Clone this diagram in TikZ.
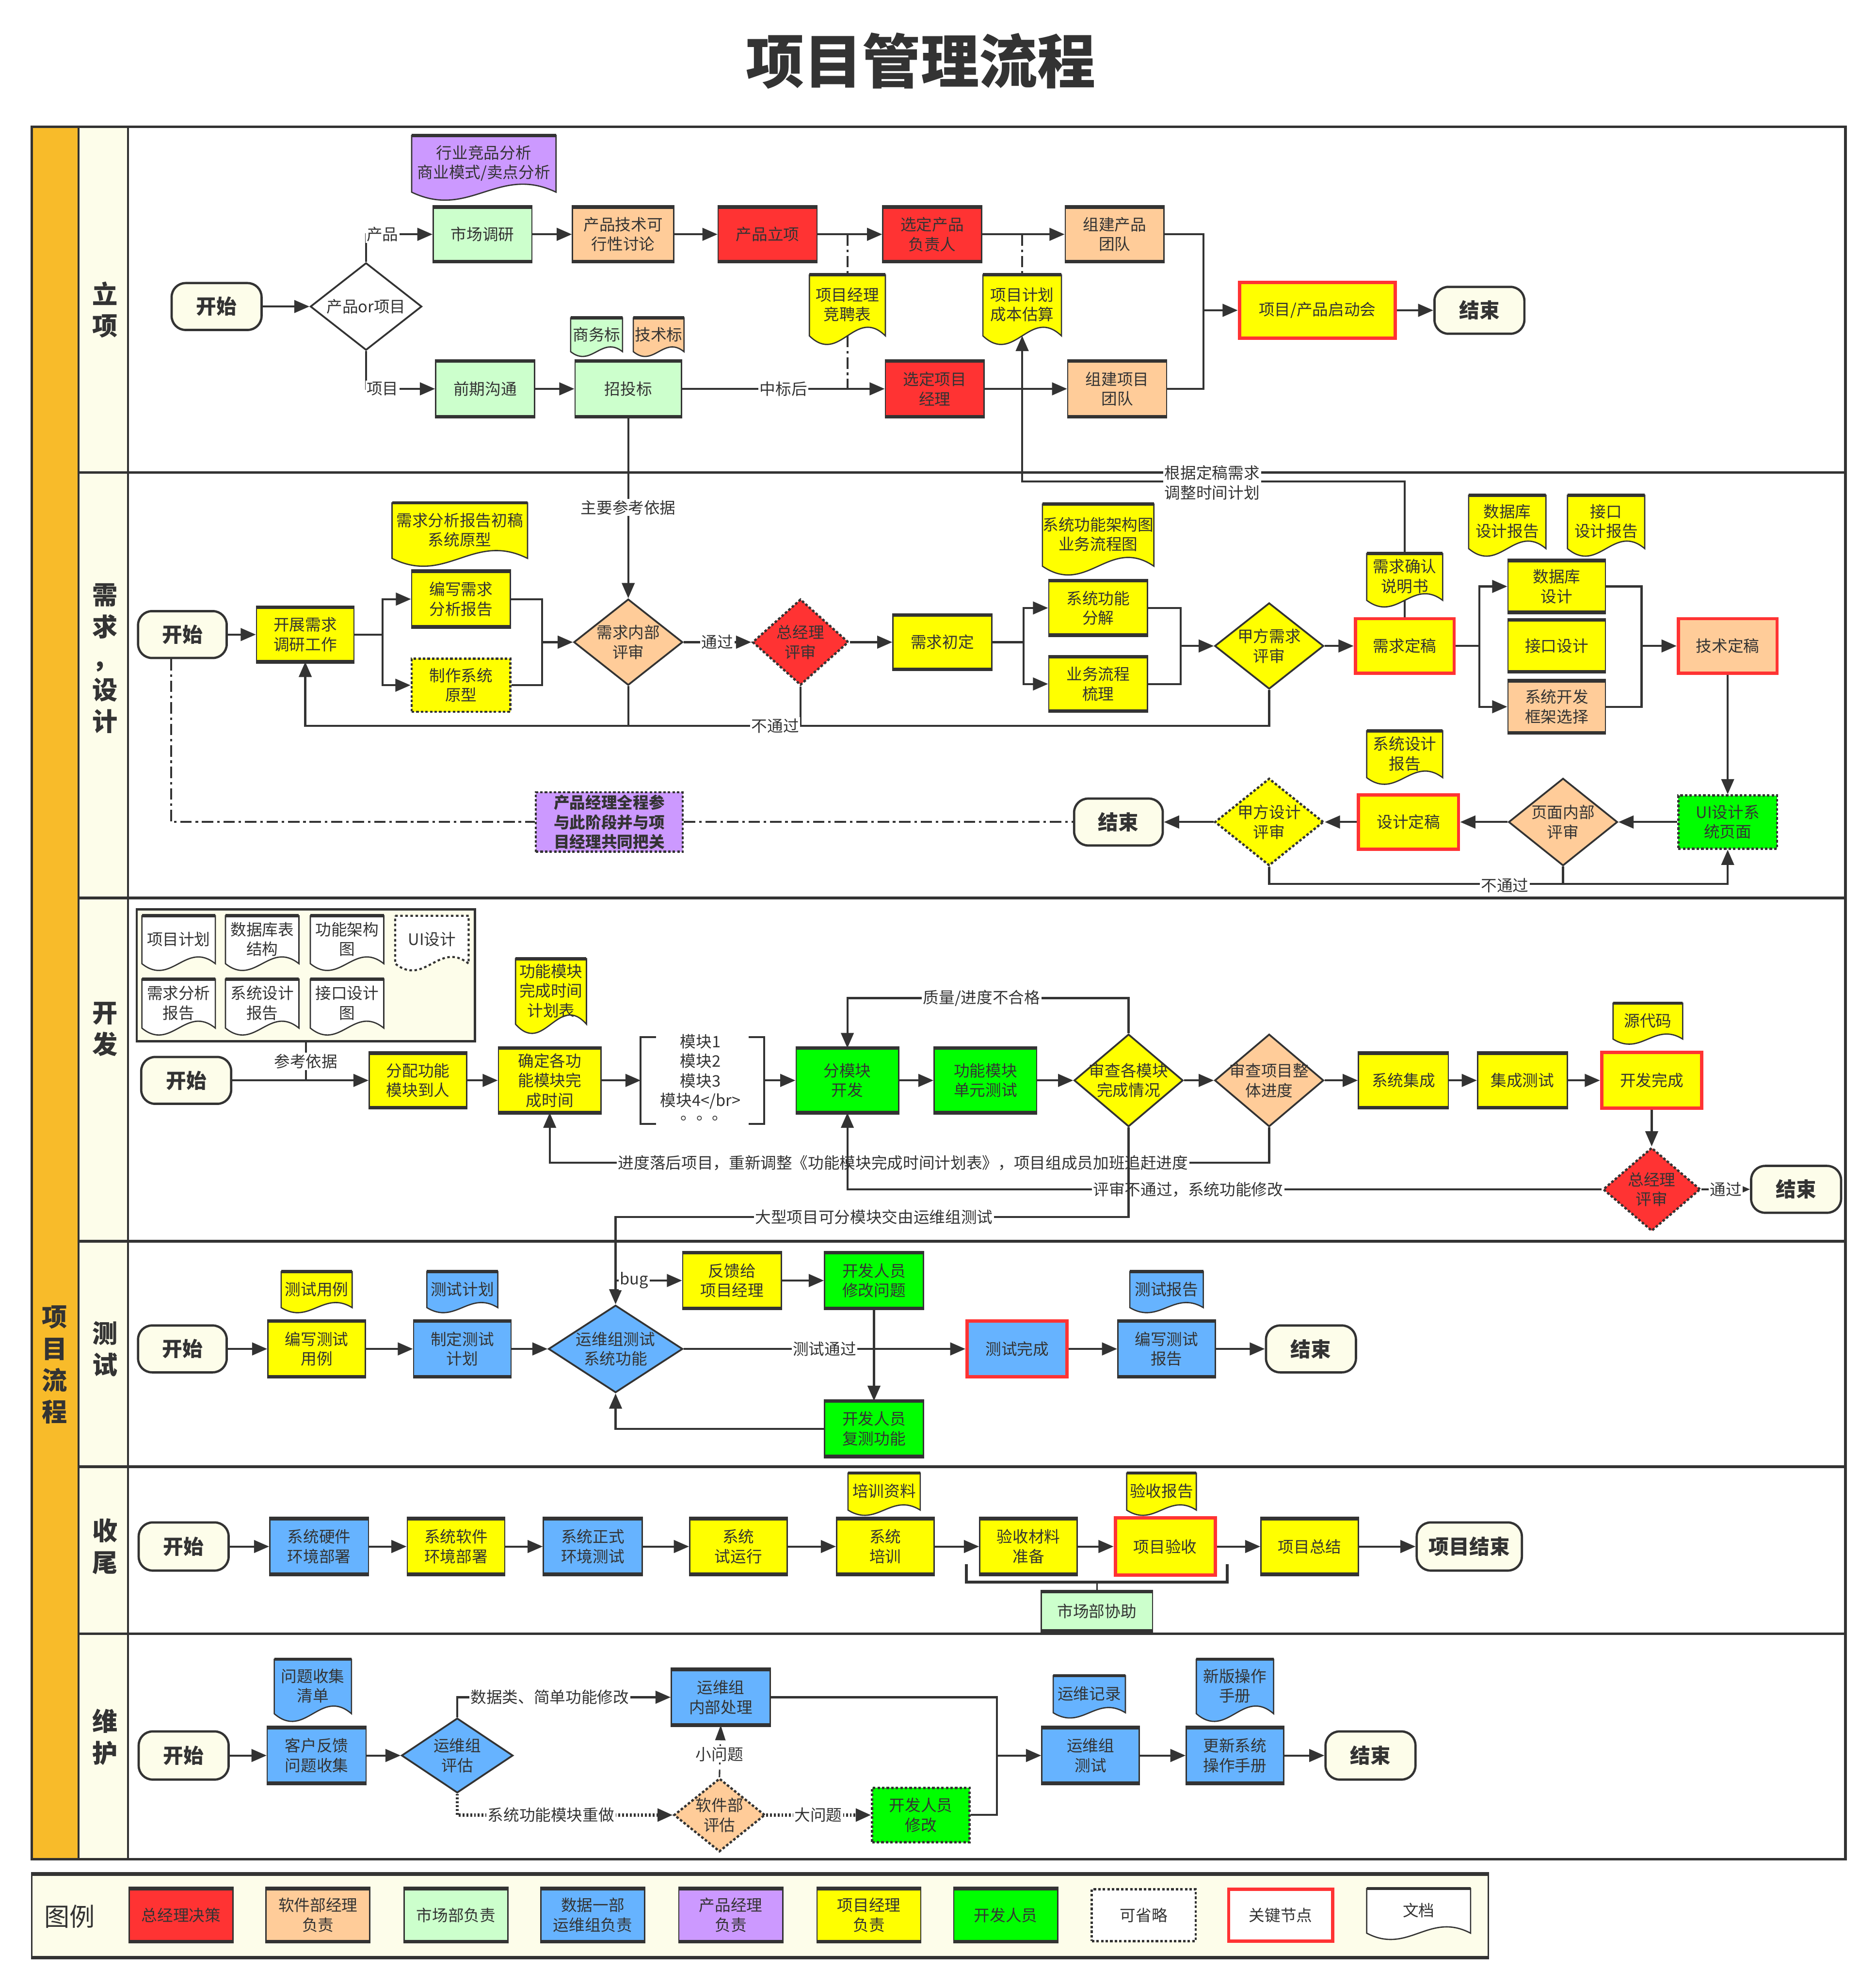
\documentclass[tikz,border=0pt]{standalone}
\usepackage{fontspec}
\setmainfont{Noto Sans CJK SC}
\usetikzlibrary{shapes.geometric,arrows.meta,calc}
\definecolor{dk}{HTML}{333333}
\definecolor{kred}{HTML}{FF3333}
\definecolor{cred}{HTML}{FF3333}
\definecolor{corg}{HTML}{FFCC99}
\definecolor{clg}{HTML}{CCFFCC}
\definecolor{cbl}{HTML}{66B3FF}
\definecolor{cpu}{HTML}{CC99FF}
\definecolor{cye}{HTML}{FFFF00}
\definecolor{cgr}{HTML}{00FF00}
\definecolor{ccr}{HTML}{FDFDEA}
\definecolor{cgo}{HTML}{F8BB2A}
\newcommand\myfs{\fontsize{12.5}{15.5}\selectfont}
\newcommand\myft{\fontsize{16}{18}\selectfont\bfseries}
\newcommand\myfl{\fontsize{20}{25}\selectfont\bfseries}
% document shape: name, cx, ytop, w, h, fill, text
\newcommand{\docnode}[7]{%
  \pgfmathsetmacro\dxa{#2-(#4)/2}\pgfmathsetmacro\dxb{#2+(#4)/2}%
  \pgfmathsetmacro\dyr{#3+0.86*(#5)}%
  \pgfmathsetmacro\dcu{#3+0.44*(#5)}%
  \pgfmathsetmacro\dcd{#3+1.28*(#5)}%
  \pgfmathsetmacro\dca{#2+0.1*(#4)}\pgfmathsetmacro\dcb{#2-0.1*(#4)}%
  \filldraw[fill=#6,draw=dk,line width=1] (\dxa,#3) -- (\dxb,#3) -- (\dxb,\dyr) .. controls (\dca,\dcu) and (\dcb,\dcd) .. (\dxa,\dyr) -- cycle;
  \draw[dk,line width=2.6] (\dxa,#3) -- (\dxb,#3);
  \node[txt] (#1) at (#2,#3+0.42*#5) {#7};
  \coordinate (#1-top) at (#2,#3);
  \coordinate (#1-bot) at (#2,#3+0.86*#5);
}
% diamond: name, pos, w, h, style, text
\newcommand{\dnode}[6]{%
  \node[#5,minimum width=#3,minimum height=#4] (#1) at (#2) {};
  \node[txt] (#1t) at (#1) {#6};
}
\begin{document}
\begin{tikzpicture}[x=1pt,y=-1pt,
  every node/.append style={text=dk},
  txt/.style={font=\myfs, align=center, inner sep=0},
  tbl/.style={draw=dk, line width=2.8},
  tbbar/.style={append after command={(\tikzlastnode.north west) edge[tbl] (\tikzlastnode.north east) (\tikzlastnode.south west) edge[tbl] (\tikzlastnode.south east)}},
  bx/.style={rectangle, draw=dk, line width=1, minimum width=78, minimum height=42, align=center, font=\myfs, inner sep=1, tbbar},
  keyb/.style={rectangle, draw=kred, line width=2.6, minimum width=78, minimum height=43, align=center, font=\myfs, inner sep=1},
  optb/.style={rectangle, draw=dk, line width=1.8, dash pattern=on 2pt off 1.6pt, minimum width=78, minimum height=42, align=center, font=\myfs, inner sep=1},
  diam/.style={diamond, draw=dk, line width=1.4, inner sep=0},
  optd/.style={diamond, draw=dk, line width=1.8, dash pattern=on 2pt off 1.6pt, inner sep=0},
  term/.style={rectangle, rounded corners=11, draw=dk, line width=1.8, fill=ccr, font=\myft, minimum width=71, minimum height=37, inner sep=0},
  lab/.style={fill=white, font=\myfs, inner sep=1, align=center},
  ar/.style={draw=dk, line width=1.6, -{Triangle[length=12pt,width=10pt]}},
  ln/.style={draw=dk, line width=1.6},
  dd/.style={draw=dk, line width=1.5, dash pattern=on 9pt off 3pt on 2pt off 3pt},
  dt/.style={draw=dk, line width=2.4, dash pattern=on 1.5pt off 1.5pt},
]
\useasboundingbox (0,0) rectangle (1481,1568);
\fill[white] (0,0) rectangle (1481,1568);
\node[font=\fontsize{46}{50}\selectfont\bfseries] (title) at (727,48) {项目管理流程};
% frame
\fill[cgo] (25,100) rectangle (62,1468);
\fill[ccr] (62,100) rectangle (101,1468);
\draw[dk,line width=2] (25,100) rectangle (1457,1468);
\draw[dk,line width=1.5] (62,100) -- (62,1468) (101,100) -- (101,1468);
\foreach \yy in {373,709,980,1158,1290} \draw[dk,line width=2] (62,\yy) -- (1457,\yy);
\node[font=\myfl,align=center] (ln1) at (83,244.5) {立\\项};
\node[font=\myfl,align=center] (ln2) at (83,520) {需\\求\\，\\设\\计};
\node[font=\myfl,align=center] (ln3) at (83,812.5) {开\\发};
\node[font=\myfl,align=center] (ln4) at (83,1065) {测\\试};
\node[font=\myfl,align=center] (ln5) at (83,1221) {收\\尾};
\node[font=\myfl,align=center] (ln6) at (83,1371.5) {维\\护};
\node[font=\myfl,align=center] (lnx) at (43,1077.5) {项\\目\\流\\程};

% ===== 立项 =====
\node[term] (s1) at (171,242) {开始};
\dnode{d1}{289,242}{88}{69}{diam,fill=white}{产品or项目}
\node[bx,fill=clg] (mr) at (381,185) {市场调研};
\node[bx,fill=corg,minimum width=80] (jx) at (492,185) {产品技术可\\行性讨论};
\node[bx,fill=cred] (cl) at (606,185) {产品立项};
\node[bx,fill=cred] (xc) at (736,185) {选定产品\\负责人};
\node[bx,fill=corg] (zc) at (880,185) {组建产品\\团队};
\node[bx,fill=clg,minimum height=43] (qq) at (383,307) {前期沟通};
\node[bx,fill=clg,minimum width=84,minimum height=43] (zt) at (496,307) {招投标};
\node[bx,fill=cred,minimum height=43] (xj) at (738,307) {选定项目\\经理};
\node[bx,fill=corg,minimum height=43] (zx) at (882,307) {组建项目\\团队};
\node[keyb,fill=cye,minimum width=123,minimum height=44] (qd) at (1040,245) {项目/产品启动会};
\node[term] (e1) at (1168,245) {结束};
\docnode{dc1}{382}{107}{114}{52}{cpu}{行业竞品分析\\商业模式/卖点分析}
\docnode{dc2}{471}{251}{41}{31}{clg}{商务标}
\docnode{dc3}{520}{251}{40}{31}{corg}{技术标}
\docnode{dc4}{669}{217}{60}{56}{cye}{项目经理\\竞聘表}
\docnode{dc5}{807}{217}{62}{56}{cye}{项目计划\\成本估算}

% ===== 需求 =====
\node[term,minimum width=70] (s2) at (144,501) {开始};
\node[bx,fill=cye,minimum width=77] (kz) at (241,501) {开展需求\\调研工作};
\node[bx,fill=cye,minimum height=43] (bx1) at (364,473) {编写需求\\分析报告};
\node[optb,fill=cye] (zz) at (364,541) {制作系统\\原型};
\docnode{dc6}{363}{397}{107}{51}{cye}{需求分析报告初稿\\系统原型}
\dnode{d21}{496,507}{86}{68}{diam,fill=corg}{需求内部\\评审}
\dnode{d22}{632,507}{76}{68}{optd,fill=cred}{总经理\\评审}
\node[bx,fill=cye] (xcd) at (744,507) {需求初定};
\node[bx,fill=cye] (fj) at (867,480) {系统功能\\分解};
\node[bx,fill=cye] (sl) at (867,540) {业务流程\\梳理};
\docnode{dc7}{867}{398}{88}{57}{cye}{系统功能架构图\\业务流程图}
\dnode{d23}{1002,510}{86}{68}{diam,fill=cye}{甲方需求\\评审}
\node[keyb,fill=cye] (xdg) at (1109,510) {需求定稿};
\docnode{dc8}{1109}{437}{60}{43}{cye}{需求确认\\说明书}
\node[bx,fill=cye,minimum width=77,minimum height=40] (sjk) at (1229,463) {数据库\\设计};
\node[bx,fill=cye,minimum width=77,minimum height=40] (jk) at (1229,510) {接口设计};
\node[bx,fill=corg,minimum width=77,minimum height=40] (kf) at (1229,558) {系统开发\\框架选择};
\docnode{dc9}{1190}{391}{61}{49}{cye}{数据库\\设计报告}
\docnode{dc10}{1268}{391}{61}{49}{cye}{接口\\设计报告}
\node[keyb,fill=corg] (jsd) at (1364,510) {技术定稿};
\node[optb,fill=cgr] (ui) at (1364,649) {UI设计系\\统页面};
\dnode{d25}{1234,649}{86}{69}{diam,fill=corg}{页面内部\\评审}
\node[keyb,fill=cye,minimum width=79] (sdg) at (1112,649) {设计定稿};
\docnode{dc11}{1109}{577}{60}{43}{cye}{系统设计\\报告}
\dnode{d26}{1002,649}{86}{69}{optd,fill=cye}{甲方设计\\评审}
\node[term,minimum width=70] (e2) at (883,649) {结束};
\node[optb,fill=cpu,minimum width=116,minimum height=47,font=\myfs\bfseries] (pm) at (481,649) {产品经理全程参\\与此阶段并与项\\目经理共同把关};

% ===== 开发 =====
\node[draw=dk,line width=1.8,fill=ccr,minimum width=267,minimum height=104,inner sep=0] (grp) at (241.5,770) {};
\docnode{g1}{141}{723}{58}{44}{white}{项目计划}
\docnode{g2}{207}{723}{58}{44}{white}{数据库表\\结构}
\docnode{g3}{274}{723}{58}{44}{white}{功能架构\\图}
\filldraw[fill=white,draw=dk,line width=1.6,dash pattern=on 2pt off 2pt] (312,723) -- (370,723) -- (370,760.8) .. controls (346.8,742.4) and (335.2,779.3) .. (312,760.8) -- cycle;
\node[txt] (g4) at (341,741.5) {UI设计};
\docnode{g5}{141}{773}{58}{45}{white}{需求分析\\报告}
\docnode{g6}{207}{773}{58}{45}{white}{系统设计\\报告}
\docnode{g7}{274}{773}{58}{45}{white}{接口设计\\图}
\node[term] (s3) at (147,853) {开始};
\node[bx,fill=cye,minimum width=77] (fp) at (330,853) {分配功能\\模块到人};
\node[bx,fill=cye,minimum width=81,minimum height=50] (qdg) at (434,853) {确定各功\\能模块完\\成时间};
\docnode{dc12}{435}{757}{56}{60}{cye}{功能模块\\完成时间\\计划表}
\node[inner sep=0,minimum width=97,minimum height=68] (mk) at (554.5,853) {};
\draw[ln] ([xshift=12pt]mk.north west) -- (mk.north west) -- (mk.south west) -- ([xshift=12pt]mk.south west);
\draw[ln] ([xshift=-12pt]mk.north east) -- (mk.north east) -- (mk.south east) -- ([xshift=-12pt]mk.south east);
\node[txt] (mkt) at (553,846) {模块1\\模块2\\模块3\\模块4</br>};
\node[txt] (mkd) at (556,883) {。。。};
\node[bx,fill=cgr,minimum width=81,minimum height=50] (fm) at (669,853) {分模块\\开发};
\node[bx,fill=cgr,minimum width=81,minimum height=50] (dy) at (778,853) {功能模块\\单元测试};
\dnode{d31}{891,853}{86}{73}{diam,fill=cye}{审查各模块\\完成情况}
\dnode{d32}{1002,853}{86}{73}{diam,fill=corg}{审查项目整\\体进度}
\node[bx,fill=cye,minimum width=71] (jc) at (1108,853) {系统集成};
\node[bx,fill=cye,minimum width=71] (jt) at (1202,853) {集成测试};
\node[keyb,fill=cye,minimum width=79,minimum height=44] (kw) at (1304,853) {开发完成};
\docnode{dc13}{1301}{792}{55}{33}{cye}{源代码}
\dnode{d33}{1304,939}{77}{66}{optd,fill=cred}{总经理\\评审}
\node[term] (e3) at (1418,939) {结束};

% ===== 测试 =====
\node[term,minimum width=70] (s4) at (144,1065) {开始};
\node[bx,fill=cye,minimum width=77,minimum height=43] (bc) at (250,1065) {编写测试\\用例};
\docnode{dc14}{250}{1004}{56}{33}{cye}{测试用例}
\node[bx,fill=cbl,minimum width=77,minimum height=43] (zd) at (365,1065) {制定测试\\计划};
\docnode{dc15}{365}{1004}{56}{33}{cbl}{测试计划}
\dnode{d41}{486,1065}{106}{69}{diam,fill=cbl}{运维组测试\\系统功能}
\node[bx,fill=cye,minimum height=43] (fk) at (578,1011) {反馈给\\项目经理};
\node[bx,fill=cgr,minimum height=43] (xg) at (690,1011) {开发人员\\修改问题};
\node[bx,fill=cgr,minimum height=43] (fc) at (690,1128) {开发人员\\复测功能};
\node[keyb,fill=cbl,minimum width=79,minimum height=44] (wc) at (803,1065) {测试完成};
\node[bx,fill=cbl,minimum width=77,minimum height=43] (bg) at (921,1065) {编写测试\\报告};
\docnode{dc16}{921}{1004}{58}{33}{cbl}{测试报告}
\node[term] (e4) at (1035,1065) {结束};

% ===== 收尾 =====
\node[term,minimum height=38] (s5) at (145,1221) {开始};
\node[bx,fill=cbl,minimum height=43] (y1) at (252,1221) {系统硬件\\环境部署};
\node[bx,fill=cye,minimum width=77,minimum height=43] (y2) at (360,1221) {系统软件\\环境部署};
\node[bx,fill=cbl,minimum height=43] (y3) at (468,1221) {系统正式\\环境测试};
\node[bx,fill=cye,minimum width=77,minimum height=43] (y4) at (583,1221) {系统\\试运行};
\node[bx,fill=cye,minimum width=77,minimum height=43] (y5) at (699,1221) {系统\\培训};
\docnode{dc17}{698}{1163}{57}{34}{cye}{培训资料}
\node[bx,fill=cye,minimum width=77,minimum height=43] (y6) at (812,1221) {验收材料\\准备};
\node[keyb,fill=cye,minimum width=79,minimum height=45] (y7) at (920,1221) {项目验收};
\docnode{dc18}{917}{1163}{55}{34}{cye}{验收报告}
\node[bx,fill=cye,minimum width=77,minimum height=43] (y8) at (1034,1221) {项目总结};
\node[term,minimum width=83,minimum height=38] (e5) at (1160,1221) {项目结束};
\node[bx,fill=clg,minimum width=88,minimum height=30] (sc) at (866,1272) {市场部协助};

% ===== 维护 =====
\node[term,minimum height=38] (s6) at (145,1386) {开始};
\node[bx,fill=cbl,minimum height=43] (w1) at (250,1386) {客户反馈\\问题收集};
\docnode{dc19}{247}{1310}{61}{50}{cbl}{问题收集\\清单}
\dnode{d61}{361,1386}{88}{59}{diam,fill=cbl}{运维组\\评估}
\node[bx,fill=cbl,minimum height=43] (w2) at (569,1340) {运维组\\内部处理};
\dnode{d62}{568,1433}{72}{58}{optd,fill=corg}{软件部\\评估}
\node[optb,fill=cgr,minimum width=77,minimum height=43] (w3) at (727,1433) {开发人员\\修改};
\node[bx,fill=cbl,minimum width=77,minimum height=43] (w4) at (861,1386) {运维组\\测试};
\docnode{dc20}{860}{1323}{57}{34}{cbl}{运维记录}
\node[bx,fill=cbl,minimum width=77,minimum height=43] (w5) at (975,1386) {更新系统\\操作手册};
\docnode{dc21}{975}{1310}{61}{50}{cbl}{新版操作\\手册}
\node[term,minimum height=38] (e6) at (1082,1386) {结束};

% ===== legend =====
\node[draw=dk,line width=1,fill=ccr,minimum width=1150,minimum height=65,inner sep=0,tbbar] (lgd) at (600,1512.5) {};
\node[font=\fontsize{20}{24}\selectfont] (lgt) at (55,1513) {图例};
\node[bx,fill=cred,minimum width=82,minimum height=41] (lg1) at (143,1512) {总经理决策};
\node[bx,fill=corg,minimum width=82,minimum height=41] (lg2) at (251,1512) {软件部经理\\负责};
\node[bx,fill=clg,minimum width=82,minimum height=41] (lg3) at (360,1512) {市场部负责};
\node[bx,fill=cbl,minimum width=82,minimum height=41] (lg4) at (468,1512) {数据一部\\运维组负责};
\node[bx,fill=cpu,minimum width=82,minimum height=41] (lg5) at (577,1512) {产品经理\\负责};
\node[bx,fill=cye,minimum width=82,minimum height=41] (lg6) at (686,1512) {项目经理\\负责};
\node[bx,fill=cgr,minimum width=82,minimum height=41] (lg7) at (794,1512) {开发人员};
\node[optb,fill=white,minimum width=82,minimum height=41] (lg8) at (903,1512) {可省略};
\node[keyb,fill=white,minimum width=82,minimum height=41] (lg9) at (1011,1512) {关键节点};
\docnode{lg10}{1120}{1491}{82}{41}{white}{文档}

% ===== connectors 立项 =====
\draw[ar] (s1) -- (d1.west);
\draw[ar] (d1.north) |- (mr.west);
\node[lab] (l1) at (302,185) {产品};
\draw[ar] (d1.south) |- (qq.west);
\node[lab] (l2) at (302,307) {项目};
\draw[ar] (mr) -- (jx);
\draw[ar] (jx) -- (cl);
\draw[ar] (cl) -- (xc);
\draw[ar] (xc) -- (zc);
\draw[ar] (qq) -- (zt);
\draw[ar] (zt) -- node[lab] (l3) {中标后} (xj);
\draw[ar] (xj) -- (zx);
\coordinate (j1) at (950,245);
\draw[ln] (zc.east) -| (j1);
\draw[ln] (zx.east) -| (j1);
\draw[ar] (j1) -- (qd.west);
\draw[ar] (qd) -- (e1);
\draw[dd] (dc4-top |- cl) -- (dc4-top);
\draw[dd] (dc4-bot) -- (dc4-bot |- xj);
\draw[dd] (dc5-top |- xc) -- (dc5-top);

% ===== connectors 需求 =====
\draw[ar] (s2) -- (kz);
\coordinate (j21) at (302,501);
\draw[ln] (kz.east) -- (j21);
\draw[ar] (j21) |- (bx1.west);
\draw[ar] (j21) |- (zz.west);
\coordinate (j22) at (428,507);
\draw[ln] (bx1.east) -| (j22);
\draw[ln] (zz.east) -| (j22);
\draw[ar] (j22) -- (d21.west);
\draw[ar] (zt.south) -- node[lab] (l4) {主要参考依据} (d21.north);
\draw[ar] (d21.east) -- node[lab] (l5) {通过} (d22.west);
\draw[ar] (d22.east) -- (xcd.west);
\coordinate (j23) at (241,573);
\draw[ln] (d21.south) -- (d21.south |- j23);
\draw[ln] (d22.south) -- (d22.south |- j23);
\draw[ar] (d23.south) |- (j23) -- (kz.south);
\node[lab] (l6) at (612,573) {不通过};
\coordinate (j24) at (808,507);
\draw[ln] (xcd.east) -- (j24);
\draw[ar] (j24) |- (fj.west);
\draw[ar] (j24) |- (sl.west);
\coordinate (j25) at (932,510);
\draw[ln] (fj.east) -| (j25);
\draw[ln] (sl.east) -| (j25);
\draw[ar] (j25) -- (d23.west);
\draw[ar] (d23.east) -- (xdg.west);
\draw[ln] (xdg.north) -- (dc8-bot);
\coordinate (j26) at (1109,380);
\coordinate (j27) at (807,380);
\draw[ar] (dc8-top) -- (j26) -- (j27) -- (dc5-bot);
\node[lab] (l8) at (957,381) {根据定稿需求\\调整时间计划};
\coordinate (j28) at (1168,510);
\draw[ln] (xdg.east) -- (j28);
\draw[ar] (j28) |- (sjk.west);
\draw[ar] (j28) |- (kf.west);
\coordinate (j29) at (1296,510);
\draw[ln] (sjk.east) -| (j29);
\draw[ln] (kf.east) -| (j29);
\draw[ar] (j29) -- (jsd.west);
\draw[ar] (jsd.south) -- (ui.north);
\draw[ar] (ui.west) -- (d25.east);
\draw[ar] (d25.west) -- (sdg.east);
\draw[ar] (sdg.west) -- (d26.east);
\draw[ar] (d26.west) -- (e2.east);
\coordinate (j30) at (1364,698);
\draw[ar] (d26.south) |- (j30) -- (ui.south);
\draw[ln] (d25.south) -- (d25.south |- j30);
\node[lab] (l9) at (1188,699) {不通过};
\draw[dd] ([xshift=-9pt]s2.south) |- (pm.west);
\draw[dd] (pm.east) -- (e2.west);

% ===== connectors 开发 =====
\draw[ln] (grp.south) -- node[lab] (l7) {参考依据} (grp.south |- s3.east);
\draw[ar] (s3) -- (fp);
\draw[ar] (fp) -- (qdg);
\draw[ar] (qdg) -- (mk.west);
\draw[ar] (mk.east) -- (fm);
\draw[ar] (fm) -- (dy);
\draw[ar] (dy) -- (d31.west);
\draw[ar] (d31.east) -- (d32.west);
\draw[ar] (d32.east) -- (jc);
\draw[ar] (jc) -- (jt);
\draw[ar] (jt) -- (kw);
\draw[ar] (kw.south) -- (d33.north);
\draw[ar] (d33.east) -- node[lab] (l10) {通过} (e3.west);
\coordinate (j31) at (891,788);
\draw[ar] (d31.north) -- (j31) -| (fm.north);
\node[lab] (l11) at (775,788) {质量/进度不合格};
\coordinate (j32) at (1002,918);
\draw[ar] (d32.south) -- (j32) -| (qdg.south);
\node[lab] (l12) at (713,918) {进度落后项目，重新调整《功能模块完成时间计划表》，项目组成员加班追赶进度};
\draw[ar] (d33.west) -| (fm.south);
\node[lab] (l13) at (938,939) {评审不通过，系统功能修改};
\coordinate (j33) at (891,961);
\draw[ar] (d31.south) -- (j33) -| (d41.north);
\node[lab] (l20) at (690,961) {大型项目可分模块交由运维组测试};

% ===== connectors 测试 =====
\draw[ar] (s4) -- (bc);
\draw[ar] (bc) -- (zd);
\draw[ar] (zd) -- (d41.west);
\coordinate (j41) at (486,1011);
\draw[ar] (j41) -- node[lab,pos=0.28] (l14) {bug} (fk.west);
\draw[ar] (fk) -- (xg);
\draw[ar] (xg.south) -- (fc.north);
\draw[ar] (fc.west) -| (d41.south);
\draw[ar] (d41.east) -- node[lab] (l15) {测试通过} (wc.west);
\draw[ar] (wc) -- (bg);
\draw[ar] (bg) -- (e4);

% ===== connectors 收尾 =====
\draw[ar] (s5) -- (y1);
\draw[ar] (y1) -- (y2);
\draw[ar] (y2) -- (y3);
\draw[ar] (y3) -- (y4);
\draw[ar] (y4) -- (y5);
\draw[ar] (y5) -- (y6);
\draw[ar] (y6) -- (y7);
\draw[ar] (y7) -- (y8);
\draw[ar] (y8) -- (e5);
\coordinate (b1) at (763,1235);
\coordinate (b2) at (763,1249);
\coordinate (b3) at (969,1249);
\coordinate (b4) at (969,1235);
\draw[ln,line width=2.2] (b1) -- (b2) -- (b3) -- (b4);
\draw[dk,line width=1] (sc.north) -- (sc.north |- b2);

% ===== connectors 维护 =====
\draw[ar] (s6) -- (w1);
\draw[ar] (w1) -- (d61.west);
\draw[ar] (d61.north) |- (w2.west);
\node[lab] (l16) at (434,1340) {数据类、简单功能修改};
\draw[dt,-{Triangle[length=12pt,width=10pt]}] (d61.south) |- (d62.west);
\node[lab] (l17) at (435,1433) {系统功能模块重做};
\draw[draw=dk,line width=1.2,dash pattern=on 6pt off 4pt,-{Triangle[length=12pt,width=8pt]}] (d62.north) -- (w2.south);
\node[lab] (l18) at (568,1385) {小问题};
\draw[dt,-{Triangle[length=12pt,width=10pt]}] (d62.east) -- (w3.west);
\node[lab] (l19) at (646,1433) {大问题};
\coordinate (j61) at (787,1386);
\draw[ln] (w2.east) -| (j61);
\draw[ln] (w3.east) -| (j61);
\draw[ar] (j61) -- (w4.west);
\draw[ar] (w4) -- (w5);
\draw[ar] (w5) -- (e6);
\end{tikzpicture}
\end{document}
